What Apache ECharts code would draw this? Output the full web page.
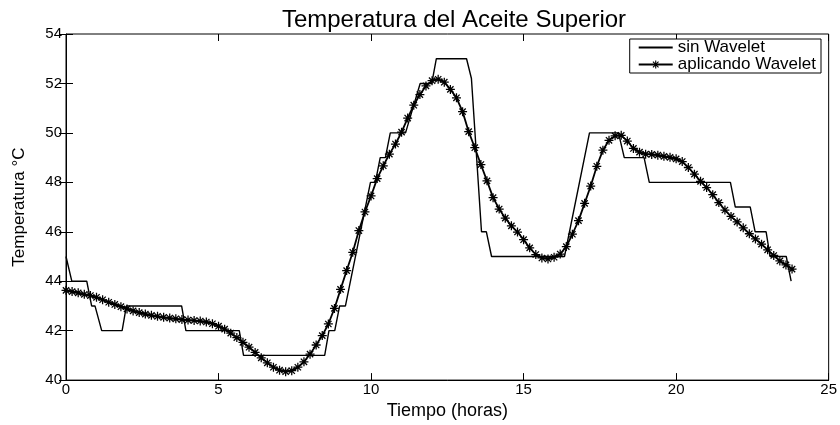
<!DOCTYPE html>
<html>
<head>
<meta charset="utf-8">
<script src="https://cdn.jsdelivr.net/npm/echarts@6/dist/echarts.min.js"></script>
<style>
  html, body { margin: 0; padding: 0; background: #fff; }
  #chart { width: 840px; height: 425px; }
</style>
</head>
<body>
<div id="chart"></div>
<script>
// serie sin Wavelet (escalones), pares [hora, temperatura]
const rawPoints = [
  [0, 45], [0.19, 44], [0.68, 44], [0.84, 43], [0.95, 43], [1.17, 42],
  [1.84, 42], [1.98, 43], [3.79, 43], [3.93, 42], [5.68, 42], [5.82, 41],
  [8.48, 41], [8.62, 42], [8.81, 42], [8.97, 43], [9.16, 43], [9.98, 48],
  [10.14, 48], [10.3, 49], [10.47, 49], [10.63, 50], [11.13, 50], [11.61, 52],
  [11.99, 52], [12.14, 53], [13.13, 53], [13.29, 52.2], [13.62, 46], [13.78, 46],
  [13.95, 45], [16.34, 45], [17.16, 50], [18.11, 50], [18.3, 49], [18.95, 49],
  [19.12, 48], [21.78, 48], [21.94, 47], [22.43, 47], [22.59, 46], [22.95, 46],
  [23.08, 45], [23.61, 45], [23.77, 44]
];

// serie aplicando Wavelet, una muestra cada 0.2 h
const sampleHours = 0.2;
const smoothValues = [
  43.63, 43.58, 43.53, 43.47, 43.42, 43.35, 43.25, 43.15, 43.06, 42.97,
  42.88, 42.80, 42.73, 42.67, 42.62, 42.58, 42.54, 42.51, 42.48, 42.45,
  42.43, 42.41, 42.39, 42.35, 42.28, 42.18, 42.06, 41.90, 41.72, 41.53,
  41.33, 41.12, 40.90, 40.70, 40.52, 40.40, 40.34, 40.38, 40.52, 40.74,
  41.05, 41.42, 41.80, 42.27, 42.90, 43.67, 44.43, 45.17, 46.05, 46.80,
  47.45, 48.15, 48.67, 49.14, 49.55, 50.03, 50.60, 51.12, 51.55, 51.90,
  52.11, 52.17, 52.05, 51.76, 51.42, 50.86, 50.05, 49.40, 48.72, 48.06,
  47.38, 46.92, 46.55, 46.24, 45.99, 45.68, 45.35, 45.08, 44.94, 44.90,
  44.97, 45.10, 45.40, 45.90, 46.45, 47.15, 47.85, 48.65, 49.30, 49.70,
  49.88, 49.90, 49.67, 49.37, 49.22, 49.14, 49.13, 49.10, 49.05, 49.01,
  48.95, 48.84, 48.60, 48.33, 48.04, 47.79, 47.50, 47.18, 46.88, 46.62,
  46.40, 46.16, 45.92, 45.71, 45.50, 45.27, 45.04, 44.82, 44.66, 44.49
];

const xTicks = { min: 0, max: 25, interval: 5 };
const yTicks = { min: 40, max: 54, interval: 2 };

const seriesNames = ["sin Wavelet", "aplicando Wavelet"];

// marcador tipo '*' de MATLAB (cruz + aspa)
const starPath = "path://M-0.7,-5L0.7,-5L0.7,5L-0.7,5Z" +
  "M-5,-0.7L5,-0.7L5,0.7L-5,0.7Z" +
  "M-4,-3.0L-3.0,-4L4,3.0L3.0,4Z" +
  "M3.0,-4L4,-3.0L-3.0,4L-4,3.0Z";

const smoothPoints = smoothValues.map((v, i) => [+(i * sampleHours).toFixed(2), v]);

const font = "Liberation Sans, Arial, Helvetica, sans-serif";

const chart = echarts.init(document.getElementById("chart"), null, { renderer: "canvas" });

const tickStyle = { show: true, inside: true, length: 7, lineStyle: { color: "#000", width: 1 } };

chart.setOption({
  animation: false,
  backgroundColor: "#fff",
  title: {
    text: "Temperatura del Aceite Superior",
    left: 449,
    textAlign: "center",
    top: 3,
    textStyle: { fontFamily: font, fontSize: 24, fontWeight: "normal", color: "#000" }
  },
  legend: {
    data: [
      { name: seriesNames[0], itemStyle: { opacity: 0 } },
      { name: seriesNames[1] }
    ],
    orient: "vertical",
    right: 19,
    top: 39,
    padding: [0, 5, 0, 8],
    itemGap: 0,
    itemWidth: 34,
    itemHeight: 10,
    backgroundColor: "#fff",
    borderColor: "#000",
    borderWidth: 1,
    textStyle: { fontFamily: font, fontSize: 17, color: "#000" }
  },
  grid: {
    left: 66, right: 9, top: 34, bottom: 33,
    show: true, borderColor: "#000", borderWidth: 1
  },
  xAxis: [
    {
      type: "value",
      min: xTicks.min, max: xTicks.max, interval: xTicks.interval,
      name: "Tiempo (horas)",
      nameLocation: "middle",
      nameGap: 14,
      nameTextStyle: { fontFamily: font, fontSize: 18, color: "#000" },
      axisLine: { show: true, lineStyle: { color: "#000" } },
      axisTick: tickStyle,
      axisLabel: { fontFamily: font, fontSize: 15, color: "#000", margin: 2 },
      splitLine: { show: false }
    },
    {
      type: "value", position: "top",
      min: xTicks.min, max: xTicks.max, interval: xTicks.interval,
      axisLine: { show: false }, axisTick: tickStyle,
      axisLabel: { show: false }, splitLine: { show: false }
    }
  ],
  yAxis: [
    {
      type: "value",
      min: yTicks.min, max: yTicks.max, interval: yTicks.interval,
      name: "Temperatura °C",
      nameLocation: "middle",
      nameGap: 38,
      nameTextStyle: { fontFamily: font, fontSize: 17, color: "#000" },
      axisLine: { show: true, lineStyle: { color: "#000" } },
      axisTick: tickStyle,
      axisLabel: { fontFamily: font, fontSize: 15, color: "#000", margin: 4 },
      splitLine: { show: false }
    },
    {
      type: "value", position: "right",
      min: yTicks.min, max: yTicks.max, interval: yTicks.interval,
      axisLine: { show: false }, axisTick: tickStyle,
      axisLabel: { show: false }, splitLine: { show: false }
    }
  ],
  series: [
    {
      name: seriesNames[0],
      type: "line",
      data: rawPoints,
      showSymbol: false,
      symbol: "none",
      color: "#000",
      lineStyle: { color: "#000", width: 1.4 }
    },
    {
      name: seriesNames[1],
      type: "line",
      data: smoothPoints,
      symbol: starPath,
      symbolSize: 9,
      showAllSymbol: true,
      color: "#000",
      itemStyle: { color: "#000" },
      lineStyle: { color: "#000", width: 1.8 }
    }
  ]
});
</script>
</body>
</html>
